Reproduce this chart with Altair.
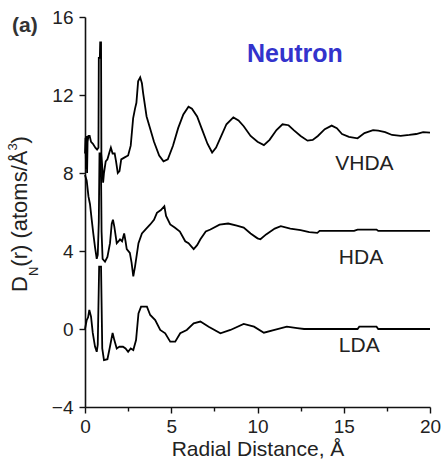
import altair as alt
import pandas as pd

# ---- data ----
vhda_r = [0.00, 0.03, 0.06, 0.09, 0.12, 0.15, 0.20, 0.27, 0.35, 0.46, 0.60, 0.70, 0.78, 0.80, 0.86, 0.88,
          0.93, 0.95, 1.00, 1.05, 1.10, 1.20, 1.30, 1.43, 1.50, 1.60, 1.72, 1.80, 1.90, 2.00, 2.10, 2.30,
          2.50, 2.65, 2.79, 2.90, 2.98, 3.08, 3.20, 3.30, 3.37, 3.57, 3.80, 4.00, 4.30, 4.55, 4.80, 5.10,
          5.40, 5.70, 6.00, 6.20, 6.50, 6.80, 7.10, 7.37, 7.60, 7.90, 8.20, 8.60, 8.90, 9.20, 9.60, 10.00,
          10.37, 10.70, 11.10, 11.45, 11.80, 12.10, 12.50, 12.90, 13.20, 13.50, 13.90, 14.30, 14.60, 14.90,
          15.30, 15.80, 16.20, 16.70, 17.00, 17.40, 17.80, 18.30, 18.80, 19.20, 19.60, 20.00]
vhda_d = [9.0, 9.8, 8.2, 9.9, 8.0, 9.6, 9.9, 9.9, 9.6, 9.5, 9.3, 9.2, 9.3, 13.9, 13.9, 14.7,
          14.7, 9.0, 8.3, 7.5, 8.0, 8.6, 8.7, 9.1, 9.3, 9.0, 9.0, 8.6, 8.0, 8.1, 8.7, 8.8,
          8.9, 9.4, 10.8, 11.3, 11.6, 12.7, 12.9, 12.6, 12.1, 10.9, 10.2, 9.6, 8.9, 8.6, 8.7, 9.4,
          10.3, 11.0, 11.4, 11.3, 10.9, 10.2, 9.5, 9.05, 9.3, 9.9, 10.5, 10.85, 10.7, 10.4, 9.9, 9.6,
          9.43, 9.7, 10.2, 10.5, 10.45, 10.2, 9.9, 9.66, 9.7, 9.9, 10.25, 10.43, 10.3, 10.0,
          9.85, 9.78, 10.05, 10.2, 10.17, 10.1, 9.95, 9.9, 9.95, 10.0, 10.1, 10.07]

hda_r = [0.00, 0.10, 0.20, 0.29, 0.39, 0.48, 0.58, 0.68, 0.74, 0.80, 0.84, 0.92, 0.96, 1.02, 1.16, 1.30,
         1.45, 1.55, 1.62, 1.70, 1.84, 1.95, 2.03, 2.15, 2.27, 2.35, 2.42, 2.60, 2.70, 2.80, 2.90, 3.00,
         3.10, 3.30, 3.50, 3.78, 4.00, 4.17, 4.40, 4.60, 4.70, 4.94, 5.20, 5.50, 5.81, 6.00, 6.30, 6.50,
         6.69, 7.00, 7.27, 7.80, 8.30, 8.80, 9.20, 9.60, 10.00, 10.17, 10.50, 11.00, 11.35, 11.90, 12.50,
         13.00, 13.47, 13.60, 15.60, 15.80, 16.90, 17.00, 20.00]
hda_d = [7.9, 7.6, 6.8, 6.4, 5.6, 4.9, 4.2, 3.6, 3.8, 5.5, 9.0, 9.0, 5.0, 3.6, 3.45, 3.7,
         4.4, 5.4, 5.6, 5.25, 4.4, 4.5, 4.6, 4.5, 4.9, 4.5, 4.1, 3.9, 3.4, 2.7, 3.2, 3.8,
         4.4, 4.9, 5.1, 5.36, 5.6, 5.96, 6.1, 6.3, 5.8, 5.36, 5.2, 5.0, 4.5, 4.4, 4.1, 4.3,
         4.6, 5.0, 5.1, 5.35, 5.41, 5.3, 5.2, 4.9, 4.65, 4.6, 4.85, 5.15, 5.27, 5.15, 5.07,
         4.97, 4.93, 5.03, 5.03, 5.1, 5.1, 5.03, 5.03]

lda_r = [0.00, 0.10, 0.18, 0.25, 0.35, 0.45, 0.58, 0.68, 0.74, 0.82, 0.93, 1.00, 1.10, 1.30, 1.45, 1.60,
         1.70, 1.84, 2.00, 2.20, 2.35, 2.50, 2.65, 2.80, 2.96, 3.10, 3.25, 3.59, 3.78, 4.07, 4.36, 4.65,
         4.94, 5.23, 5.52, 5.90, 6.30, 6.69, 7.17, 7.85, 8.43, 9.20, 9.80, 10.37, 11.10, 11.70, 12.30,
         12.70, 15.80, 15.90, 16.90, 17.00, 20.00]
lda_d = [0.0, 0.46, 0.6, 0.98, 0.63, -0.2, -0.9, -1.17, -0.8, 3.2, 3.2, -1.0, -1.6, -1.55, -0.9, -0.2,
         -0.57, -1.0, -0.9, -0.91, -1.0, -1.17, -1.0, -1.08, -0.57, 0.8, 1.15, 1.15, 0.72, 0.46, -0.05, -0.22,
         -0.65, -0.65, -0.22, -0.05, 0.29, 0.38, 0.12, -0.22, -0.05, 0.26, 0.12, -0.19, -0.02, 0.12, 0.05,
         0.0, 0.0, 0.12, 0.12, 0.0, 0.0]

series_names = ["VHDA", "HDA", "LDA"]
label_r = [16.2, 16.0, 15.9]
label_d = [8.45, 3.66, -0.88]

x_ticks = [0, 2.5, 5, 7.5, 10, 12.5, 15, 17.5, 20]
y_ticks = [-4, -2, 0, 2, 4, 6, 8, 10, 12, 14, 16]

# ---- tables ----
rows = []
for name, rs, ds in [("VHDA", vhda_r, vhda_d), ("HDA", hda_r, hda_d), ("LDA", lda_r, lda_d)]:
    for i, (r, d) in enumerate(zip(rs, ds)):
        rows.append({"series": name, "order": i, "r": r, "D": d})
df = pd.DataFrame(rows)
labels_df = pd.DataFrame({"name": series_names, "r": label_r, "D": label_d})

FONT = "Liberation Sans"

x_enc = alt.X("r:Q", scale=alt.Scale(domain=[0, 20], nice=False),
              axis=alt.Axis(values=x_ticks, title="Radial Distance, Å",
                            labelExpr="datum.value % 5 === 0 ? datum.label : ''",
                            tickSize={"condition": {"test": "datum.value % 5 === 0", "value": 6}, "value": 4},
                            grid=False, labelFontSize=19, titleFontSize=21, labelFont=FONT, titleFont=FONT,
                            labelColor="#222", titleColor="#222", titleFontWeight="normal",
                            labelPadding=4, titlePadding=2, domainColor="#111", tickColor="#111",
                            domainWidth=1.6, tickWidth=1.4, labelFlush=False))
y_enc = alt.Y("D:Q", scale=alt.Scale(domain=[-4, 16], nice=False),
              axis=alt.Axis(values=y_ticks, title=None,
                            labelExpr="datum.value % 4 === 0 ? datum.label : ''",
                            tickSize={"condition": {"test": "datum.value % 4 === 0", "value": 6}, "value": 4},
                            grid=False, labelFontSize=19, labelFont=FONT, labelColor="#222",
                            labelPadding=6, domainColor="#111", tickColor="#111",
                            domainWidth=1.6, tickWidth=1.4, labelFlush=False))

lines = alt.Chart(df).mark_line(color="black", strokeWidth=1.8, strokeJoin="miter").encode(
    x=x_enc, y=y_enc, detail="series:N", order="order:Q")

series_labels = alt.Chart(labels_df).mark_text(
    font=FONT, fontSize=21, color="#222", align="center", baseline="middle").encode(
    x="r:Q", y="D:Q", text="name:N")

def txt(text, x, y, size, **kw):
    return alt.Chart(pd.DataFrame({"t": [text]})).mark_text(
        font=FONT, fontSize=size, **kw).encode(x=alt.value(x), y=alt.value(y), text="t:N")

# y-axis title built from pieces (subscript N, superscript 3), rotated
ytitle = [
    txt("D", -58, 275, 22, angle=270, align="left", baseline="alphabetic", color="#222"),
    txt("N", -47, 259.1, 13, angle=270, align="left", baseline="alphabetic", color="#222"),
    txt("(r) (atoms/Å", -58, 249.7, 22, angle=270, align="left", baseline="alphabetic", color="#222"),
    txt("3", -68, 133.6, 13, angle=270, align="left", baseline="alphabetic", color="#222"),
    txt(")", -58, 126.4, 22, angle=270, align="left", baseline="alphabetic", color="#222"),
]

panel_tag = txt("(a)", -73, 15, 21, fontWeight="bold", align="left", baseline="alphabetic", color="#333")
neutron = txt("Neutron", 162, 45, 25, fontWeight="bold", align="left", baseline="alphabetic", color="#3333CC")

chart = alt.layer(lines, series_labels, panel_tag, neutron, *ytitle).properties(
    width=345, height=390,
    autosize=alt.AutoSizeParams(type="none"),
    padding={"left": 85, "top": 17, "right": 12, "bottom": 60},
    background="white",
).configure_view(stroke=None)

chart.save("out.html", embed_options={"renderer": "svg", "actions": False})
